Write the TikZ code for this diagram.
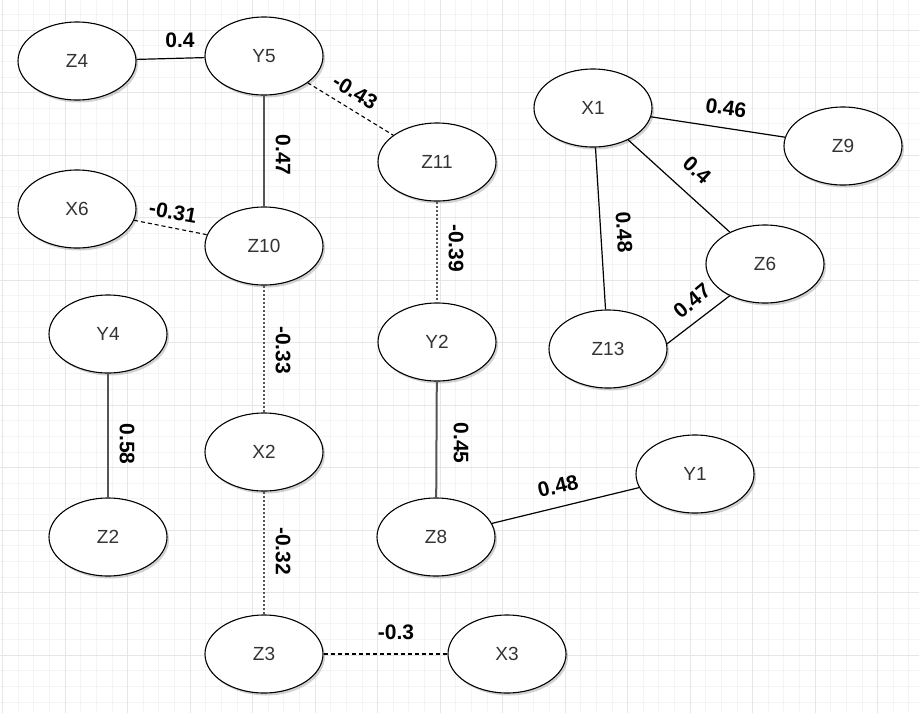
\documentclass[tikz,border=0pt]{standalone}
\usepackage{fontspec}
\setmainfont{Liberation Sans}
\usetikzlibrary{shadows,shapes.geometric}
\definecolor{gmaj}{HTML}{E6E6E6}
\definecolor{gmin}{HTML}{F4F4F4}
\definecolor{ntext}{HTML}{333333}
\definecolor{thickgray}{HTML}{555555}
\tikzset{
  var/.style={ellipse, draw=black, line width=1.1pt, fill=white, minimum width=118pt, minimum height=78pt, inner sep=0pt,
    font=\fontsize{19}{19}\selectfont, text=ntext,
    drop shadow={shadow xshift=2pt, shadow yshift=-2.5pt, opacity=0.35, fill=gray}},
  solidedge/.style={draw=black, line width=1.2pt},
  heavyedge/.style={draw=thickgray, line width=2pt},
  dashedge/.style={draw=black, line width=1.1pt, dash pattern=on 4pt off 3pt},
  dotedge/.style={draw=thickgray, line width=2pt, dash pattern=on 2pt off 2pt},
  wlabel/.style={font=\bfseries\fontsize{21}{21}\selectfont, text=black, inner sep=0pt}
}
\begin{document}
\begin{tikzpicture}[x=1pt,y=-1pt]
\useasboundingbox (0,0) rectangle (919,713);
\fill[white] (0,0) rectangle (919,713);
% minor grid
\foreach \i in {0,...,60} {
  \draw[gmin, line width=0.6pt] ({2.5+15.625*\i},0) -- ({2.5+15.625*\i},713);
}
\foreach \i in {0,...,47} {
  \draw[gmin, line width=0.6pt] (0,{-1.25+15.625*\i}) -- (919,{-1.25+15.625*\i});
}
% major grid
\foreach \i in {0,...,15} {
  \draw[gmaj, line width=0.9pt] ({2.5+62.5*\i},0) -- ({2.5+62.5*\i},713);
}
\foreach \i in {0,...,12} {
  \draw[gmaj, line width=0.9pt] (0,{30+62.5*\i-62.5}) -- (919,{30+62.5*\i-62.5});
}
% nodes
\node[var] (Z4)  at (77,61)   {Z4};
\node[var] (Y5)  at (264,56)  {Y5};
\node[var] (Z11) at (437,162) {Z11};
\node[var] (X6)  at (77,209)  {X6};
\node[var] (Z10) at (264,246) {Z10};
\node[var] (X1)  at (593,108) {X1};
\node[var] (Z9)  at (843,146) {Z9};
\node[var] (Z6)  at (765,264) {Z6};
\node[var] (Z13) at (608,349) {Z13};
\node[var] (Y2)  at (437,342) {Y2};
\node[var] (Y4)  at (108,334) {Y4};
\node[var] (Z2)  at (108,537) {Z2};
\node[var] (X2)  at (264,452) {X2};
\node[var] (Z3)  at (264,654) {Z3};
\node[var] (Z8)  at (436,537) {Z8};
\node[var] (Y1)  at (695,474) {Y1};
\node[var] (X3)  at (507,654) {X3};
% edges
\draw[solidedge] (Z4) -- (Y5);
\draw[heavyedge] (Y5) -- (Z10);
\draw[dashedge] (Y5) -- (Z11);
\draw[dashedge] (X6) -- (Z10);
\draw[dotedge] (Z10) -- (X2);
\draw[dotedge] (X2) -- (Z3);
\draw[dashedge] (Z3) -- (X3);
\draw[dotedge] (Z11) -- (Y2);
\draw[heavyedge] (Y2) -- (Z8);
\draw[solidedge] (Z8) -- (Y1);
\draw[heavyedge] (Y4) -- (Z2);
\draw[solidedge] (X1) -- (Z9);
\draw[solidedge] (X1) -- (Z6);
\draw[solidedge] (X1) -- (Z13);
\draw[solidedge] (Z13.5) -- (Z6.222);
% labels
\node[wlabel] (l1) at (180,40) {0.4};
\node[wlabel, rotate=-90] (l2) at (283,155) {0.47};
\node[wlabel, rotate=-31] (l3) at (355,92) {-0.43};
\node[wlabel, rotate=-10] (l4) at (173,212) {-0.31};
\node[wlabel, rotate=-90] (l5) at (456,248) {-0.39};
\node[wlabel, rotate=-86.5] (l6) at (624,232) {0.48};
\node[wlabel, rotate=-8] (l7) at (726,108) {0.46};
\node[wlabel, rotate=-42] (l8) at (697,170) {0.4};
\node[wlabel, rotate=40] (l9) at (692,301) {0.47};
\node[wlabel, rotate=-90] (l10) at (127,444) {0.58};
\node[wlabel, rotate=-90] (l11) at (283,350) {-0.33};
\node[wlabel, rotate=-90] (l12) at (283,551) {-0.32};
\node[wlabel] (l13) at (396,632) {-0.3};
\node[wlabel, rotate=-90] (l14) at (461,443) {0.45};
\node[wlabel, rotate=13] (l15) at (558,486) {0.48};
\end{tikzpicture}
\end{document}
